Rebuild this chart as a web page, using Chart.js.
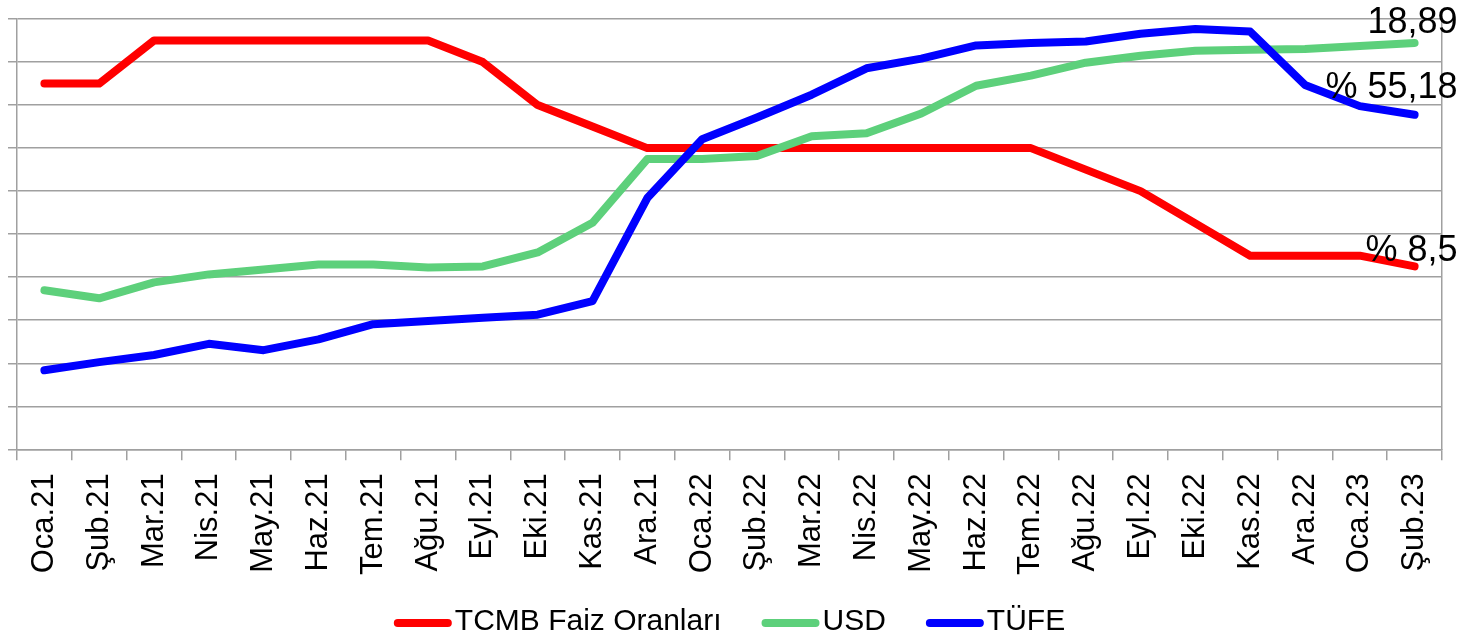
<!DOCTYPE html>
<html>
<head>
<meta charset="utf-8">
<script src="https://cdn.jsdelivr.net/npm/chart.js@4"></script>
<style>
  body { margin: 0; background: #fff; }
  #wrap { width: 1472px; height: 641px; }
</style>
</head>
<body>
<div id="wrap"><canvas id="myChart"></canvas></div>
<script>
const months = ['Oca.21', 'Şub.21', 'Mar.21', 'Nis.21', 'May.21', 'Haz.21', 'Tem.21', 'Ağu.21', 'Eyl.21', 'Eki.21', 'Kas.21', 'Ara.21',
  'Oca.22', 'Şub.22', 'Mar.22', 'Nis.22', 'May.22', 'Haz.22', 'Tem.22', 'Ağu.22', 'Eyl.22', 'Eki.22', 'Kas.22', 'Ara.22',
  'Oca.23', 'Şub.23'];

// TCMB policy rate (%)
const faiz = [17, 17, 19, 19, 19, 19, 19, 19, 18, 16, 15, 14,
  14, 14, 14, 14, 14, 14, 14, 13, 12, 10.5, 9, 9,
  9, 8.5];

// USD/TRY
const usd = [7.39, 7.02, 7.76, 8.13, 8.36, 8.59, 8.59, 8.45, 8.50, 9.15, 10.53, 13.49,
  13.49, 13.63, 14.55, 14.69, 15.61, 16.90, 17.37, 17.97, 18.29, 18.52, 18.57, 18.61,
  18.75, 18.89];

// annual CPI (%), drawn on a hidden log axis
const tufe = [14.97, 15.61, 16.19, 17.14, 16.59, 17.53, 18.95, 19.25, 19.58, 19.89, 21.31, 36.08,
  48.69, 54.44, 61.14, 69.97, 73.50, 78.62, 79.60, 80.21, 83.45, 85.51, 84.39, 64.27,
  57.68, 55.18];

const seriesNames = ['TCMB Faiz Oranları', 'USD', 'TÜFE'];
const labelPrefix = ['% ', '', '% '];

const FONT = '"Liberation Sans", Arial, sans-serif';

// value label at the last point of each line
const endLabels = {
  id: 'endLabels',
  afterDatasetsDraw(chart, args, opts) {
    const ctx = chart.ctx;
    ctx.save();
    ctx.font = '36px ' + FONT;
    ctx.fillStyle = '#000';
    ctx.textAlign = 'right';
    ctx.textBaseline = 'alphabetic';
    chart.data.datasets.forEach((ds, i) => {
      const meta = chart.getDatasetMeta(i);
      const pt = meta.data[meta.data.length - 1];
      const v = ds.data[ds.data.length - 1];
      const txt = labelPrefix[i] + String(v).replace('.', ',');
      ctx.fillText(txt, pt.x + opts.dx, pt.y + opts.dy[i]);
    });
    ctx.restore();
  }
};

// legend with a thick line sample tight against the text
const lineLegend = {
  id: 'lineLegend',
  afterDraw(chart) {
    const ctx = chart.ctx;
    ctx.save();
    ctx.font = '30px ' + FONT;
    const sw = 58, tgap = 3, gap = 40;
    const items = chart.data.datasets.map(ds => ({
      text: ds.label, color: ds.borderColor,
      w: sw + tgap + ctx.measureText(ds.label).width
    }));
    const total = items.reduce((s, it) => s + it.w, 0) + gap * (items.length - 1);
    let x = (chart.chartArea.left + chart.chartArea.right) / 2 - total / 2;
    const y = chart.height - 19;
    items.forEach(it => {
      ctx.strokeStyle = it.color;
      ctx.lineWidth = 8;
      ctx.lineCap = 'round';
      ctx.beginPath();
      ctx.moveTo(x + 4, y + 1);
      ctx.lineTo(x + sw - 4, y + 1);
      ctx.stroke();
      ctx.fillStyle = '#000';
      ctx.textBaseline = 'middle';
      ctx.fillText(it.text, x + sw + tgap, y);
      x += it.w + gap;
    });
    ctx.restore();
  }
};

const common = {
  fill: false,
  borderWidth: 8,
  pointRadius: 0,
  pointHoverRadius: 0,
  tension: 0,
  borderCapStyle: 'round',
  borderJoinStyle: 'round'
};

const ctx = document.getElementById('myChart');
new Chart(ctx, {
  type: 'line',
  data: {
    labels: months,
    datasets: [
      { ...common, label: seriesNames[0], data: faiz, borderColor: '#ff0000', yAxisID: 'y', order: 3 },
      { ...common, label: seriesNames[1], data: usd, borderColor: '#5dd07b', yAxisID: 'y', order: 2 },
      { ...common, label: seriesNames[2], data: tufe, borderColor: '#0000ff', yAxisID: 'y2', order: 1 }
    ]
  },
  options: {
    responsive: true,
    maintainAspectRatio: false,
    animation: false,
    layout: { padding: { left: 8, right: 30, top: 19, bottom: 53 } },
    plugins: {
      legend: { display: false },
      tooltip: { enabled: false },
      endLabels: { dx: 43, dy: [-5, -10, -17] }
    },
    scales: {
      x: {
        offset: true,
        grid: { offset: true, drawOnChartArea: false, color: '#a0a0a0', lineWidth: 1.5, tickLength: 11 },
        border: { color: '#a0a0a0', width: 1.5 },
        ticks: {
          autoSkip: false, minRotation: 90, maxRotation: 90, padding: 13,
          color: '#000', font: { family: FONT, size: 31 }
        }
      },
      y: {
        min: 0, max: 20,
        ticks: { stepSize: 2, display: false },
        grid: { color: '#a0a0a0', lineWidth: 1.5, tickLength: 9 },
        border: { color: '#a0a0a0', width: 1.5 }
      },
      y2: {
        type: 'logarithmic',
        position: 'right',
        min: 10, max: 90,
        ticks: { display: false },
        grid: { display: false, drawTicks: false },
        border: { display: true, color: '#a0a0a0', width: 1.5 }
      }
    }
  },
  plugins: [endLabels, lineLegend]
});
</script>
</body>
</html>
